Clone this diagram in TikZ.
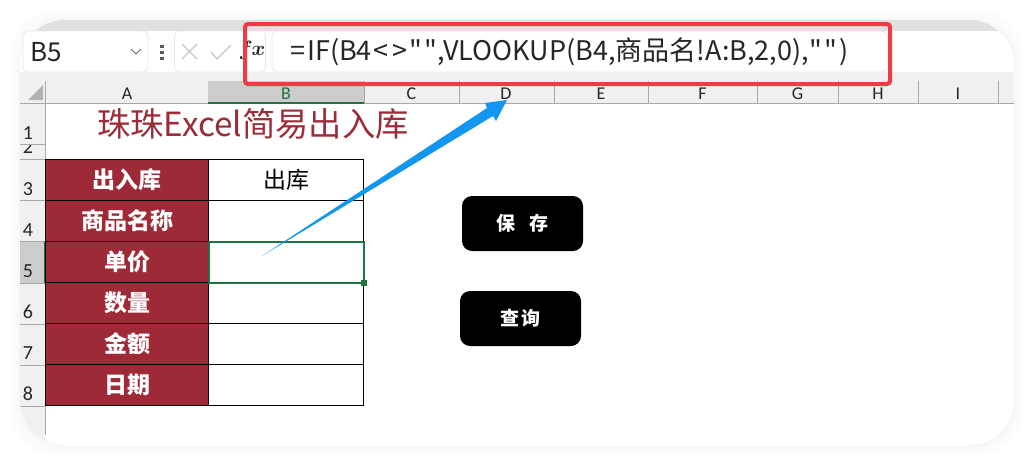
\documentclass[tikz,border=0pt]{standalone}
\usepackage{fontspec}
\setmainfont{Noto Sans CJK SC}
\newfontfamily\headfont{Carlito}
\newfontfamily\formulafont{Noto Sans CJK SC}
\usetikzlibrary{positioning}
\definecolor{winered}{HTML}{9E2A38}
\definecolor{titlered}{HTML}{9B2D3A}
\definecolor{selgreen}{HTML}{217346}
\definecolor{framered}{HTML}{EF3B45}
\definecolor{arrowblue}{HTML}{1296F0}
\definecolor{headgray}{HTML}{F0F0F0}
\definecolor{headline}{HTML}{A8A8A8}
\definecolor{boxline}{HTML}{E6E6E6}
\definecolor{inktext}{HTML}{262626}
\newcommand{\px}[1]{\fontsize{#1}{#1}\selectfont}
\tikzset{
	x=1pt, y=-1pt,
	labelcell/.style={draw=black, fill=winered, text=white, font=\px{23}\bfseries, minimum width=163pt, minimum height=41pt, inner sep=0pt, outer sep=0pt, line width=0.8pt},
	valuecell/.style={draw=black, fill=white, text=black, font=\px{23}, minimum width=155pt, minimum height=41pt, inner sep=0pt, outer sep=0pt, line width=0.8pt},
	colhead/.style={font=\headfont\px{18}, text=inktext, inner sep=0pt},
	rowhead/.style={font=\headfont\px{20}, text=inktext, inner sep=0pt},
	blackbutton/.style={fill=black, text=white, rounded corners=10pt, minimum width=121pt, minimum height=55pt, inner sep=0pt, font=\px{19}\bfseries},
	barbox/.style={draw=boxline, fill=white, rounded corners=5pt, line width=0.7pt, inner sep=0pt, outer sep=0pt},
	gridline/.style={draw=headline, line width=0.7pt}
}

\begin{document}
\begin{tikzpicture}
	\useasboundingbox (0,0) rectangle (1033,464);
	\fill[white] (0,0) rectangle (1033,464);
	% soft shadow of the card
	\foreach \grow/\shade in {10/0.6,8/1,6/1.5,4/2,2/3}{
		\fill[black!\shade, rounded corners=45pt] (20-\grow,20-\grow) rectangle (1014+\grow,445+\grow);
	}
	\fill[white, rounded corners=45pt] (20,20) rectangle (1014,445);
	\begin{scope}
		\clip[rounded corners=45pt] (20,20) rectangle (1014,445);
		% formula bar
		\fill[black!12] (20,20) rectangle (1014,31);
		\fill[white] (20,31) rectangle (1014,72);
		\fill[black!6] (20,72) rectangle (1014,81);
		% sheet headers
		\fill[headgray] (20,81) rectangle (1014,103);
		\fill[headgray] (20,103) rectangle (45,445);
		\fill[black!20] (208,81) rectangle (364,103);
		\fill[black!20] (20,241) rectangle (45,283);
		\draw[gridline] (20,103) -- (1014,103);
		\draw[gridline] (45,81) -- (45,435);
		\foreach \x in {364,459,554,648,757,838,918,998}{
			\draw[gridline] (\x,81) -- (\x,103);
		}
		\foreach \y in {144,159,200,241,283,324,365,406}{
			\draw[gridline] (20,\y) -- (45,\y);
		}
		\fill[black!30] (43,85) -- (43,100) -- (28,100) -- cycle;
		\draw[selgreen, line width=1.5pt] (208,103) -- (364,103);
		\draw[selgreen, line width=1.5pt] (45,241) -- (45,283);
	\end{scope}
	\node[barbox, minimum width=125pt, minimum height=41pt] (namebox) at (85.5,51.5) {};
	\node[barbox, minimum width=91pt, minimum height=41pt] (iconbox) at (220,51.5) {};
	\node[barbox, minimum width=615pt, minimum height=41pt] (formulabox) at (579.5,51.5) {};
	\node[font=\px{26}, text=inktext, inner sep=0pt, anchor=west] (cellname) at (30,52) {B5};
	\node[font=\formulafont\px{27}, text=inktext, inner sep=0pt, anchor=west] (formula) at (290,52) {=\hspace{2pt}IF(B4\hspace{2pt}<\hspace{4pt}>\hspace{2pt}"\hspace{2pt}"\hspace{0.5pt},VLOOKUP(B4,商品名!A:B,2,0),\hspace{1pt}"\hspace{2pt}"\hspace{2pt})};
	\node[font=\px{20}\boldmath, text=inktext, inner sep=0pt] (fxmark) at (252,50) {$f\hspace{-1pt}x$};
	% small icons
	\draw[black!60, line width=1pt] (131,49) -- (136,54) -- (141,49);
	\foreach \y in {46,52,58}{
		\fill[black!65] (160,\y-1.5) rectangle (163.5,\y+1.5);
	}
	\draw[black!22, line width=1.2pt] (182,44) -- (197,59) (197,44) -- (182,59);
	\draw[black!22, line width=1.2pt] (211,52) -- (217,59) -- (231,45);
	% column and row titles
	\foreach \name/\x in {A/127,C/411.5,D/506,E/601,F/702.5,G/797.5,H/878,I/958}{
		\node[colhead] (col\name) at (\x,93.5) {\name};
	}
	\node[colhead, text=selgreen] (colB) at (286,93.5) {B};
	\begin{scope}
		\clip (20,145) rectangle (45,159);
		\node[rowhead] (row2) at (28,147) {2};
	\end{scope}
	\foreach \name/\y in {1/133,3/189,4/230,5/271,6/312,7/353,8/394}{
		\node[rowhead] (row\name) at (28,\y) {\name};
	}
	% title
	\node[font=\px{33.3}, text=titlered, inner sep=0pt, anchor=west] (title) at (97,124) {珠珠Excel简易出入库};
	% table
	\node[labelcell] (inout) at (127,180) {出入库};
	\node[labelcell, below=0pt of inout] (goods) {商品名称};
	\node[labelcell, below=0pt of goods] (price) {单价};
	\node[labelcell, below=0pt of price] (amount) {数量};
	\node[labelcell, below=0pt of amount] (money) {金额};
	\node[labelcell, below=0pt of money] (date) {日期};
	\node[valuecell, right=0pt of inout] (inoutval) {出库};
	\node[valuecell, right=0pt of goods] (goodsval) {};
	\node[valuecell, right=0pt of price] (priceval) {};
	\node[valuecell, right=0pt of amount] (amountval) {};
	\node[valuecell, right=0pt of money] (moneyval) {};
	\node[valuecell, right=0pt of date] (dateval) {};
	% selected cell
	\draw[selgreen, line width=2pt] (priceval.north west) rectangle (priceval.south east);
	\fill[selgreen] (361,280) rectangle (366.5,285.5);
	% buttons
	\node[blackbutton] (save) at (522.5,223.5) {\raisebox{-2.5pt}{保\hspace{14pt}存}};
	\node[blackbutton] (query) at (520.5,318.5) {\raisebox{-2.5pt}{查\hspace{2pt}询}};
	% red frame
	\draw[framered, line width=4pt, rounded corners=3pt] (245,24) rectangle (890,84);
	% blue arrow
	\coordinate (arrowtail) at (262,256);
	\coordinate (arrowtip) at (507,100);
	\fill[arrowblue] (arrowtail) -- (487,108) -- (485,103) -- (arrowtip) -- (496,121) -- (493,116) -- cycle;
\end{tikzpicture}
\end{document}
